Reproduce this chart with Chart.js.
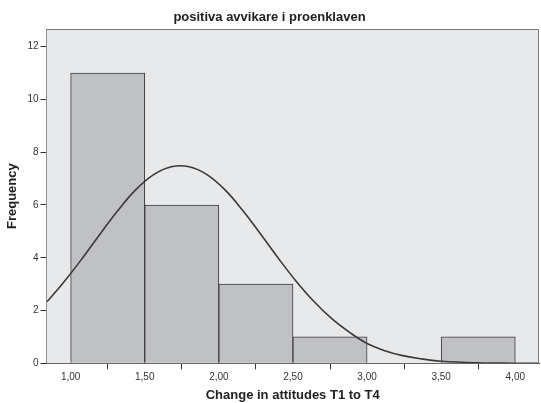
<!DOCTYPE html>
<html>
<head>
<meta charset="utf-8">
<script src="https://cdn.jsdelivr.net/npm/chart.js@4"></script>
<style>
  body { margin: 0; background: #fff; }
  #wrap { width: 541px; height: 403px; }
</style>
</head>
<body>
<div id="wrap"><canvas id="hist" width="541" height="403"></canvas></div>
<script>
// histogram bins (start of each bin, width 0.5)
const binStarts = [1.0, 1.5, 2.0, 2.5, 3.0, 3.5];
const binCounts = [11, 6, 3, 1, 0, 1];

// normal curve
const curveX = [0.84, 0.96, 1.08, 1.2, 1.32, 1.44, 1.56, 1.68, 1.8, 1.92, 2.04, 2.16, 2.28,
                2.4, 2.52, 2.64, 2.76, 2.88, 3.0, 3.12, 3.24, 3.36, 3.5, 3.75, 4.0, 4.16];
const curveY = [2.33, 3.12, 3.99, 4.91, 5.8, 6.58, 7.15, 7.45, 7.45, 7.15, 6.58, 5.8, 4.91,
                3.99, 3.12, 2.35, 1.7, 1.18, 0.75, 0.48, 0.29, 0.17, 0.08, 0.02, 0.004, 0.001];

const xTicks = [1.0, 1.5, 2.0, 2.5, 3.0, 3.5, 4.0];
const yTicks = [0, 2, 4, 6, 8, 10, 12];

const AXIS = '#333333';
const FONT = 'Liberation Sans, Arial, sans-serif';
const TICK_FONT = 'Liberation Sans Narrow, Arial Narrow, Liberation Sans, sans-serif';

// grey plot background + frame
const plotFrame = {
    id: 'plotFrame',
    beforeDatasetsDraw(chart) {
        const a = chart.chartArea;
        const ctx = chart.ctx;
        ctx.save();
        ctx.fillStyle = '#e8e9eb';
        ctx.fillRect(a.left, a.top, a.right - a.left, a.bottom - a.top);
        ctx.restore();
    },
    afterDraw(chart) {
        const a = chart.chartArea;
        const ctx = chart.ctx;
        ctx.save();
        ctx.strokeStyle = '#7a7a7a';
        ctx.lineWidth = 1;
        ctx.beginPath();
        ctx.moveTo(a.left, a.top + 0.5);
        ctx.lineTo(a.right - 0.5, a.top + 0.5);
        ctx.lineTo(a.right - 0.5, a.bottom);
        ctx.stroke();
        ctx.restore();
    }
};

const bars = binStarts.map((s, i) => ({ x: s + 0.25, y: binCounts[i] > 0 ? binCounts[i] : null }));
const curve = curveX.map((x, i) => ({ x: x, y: curveY[i] }));

new Chart(document.getElementById('hist').getContext('2d'), {
    type: 'bar',
    data: {
        datasets: [{
            type: 'line',
            data: curve,
            borderColor: '#3a3a3a',
            borderWidth: 1.6,
            pointRadius: 0,
            fill: false,
            tension: 0.4,
            order: 0
        }, {
            type: 'bar',
            data: bars,
            backgroundColor: '#c0c1c5',
            borderColor: '#3c3c3c',
            borderWidth: 1,
            borderSkipped: 'start',
            barPercentage: 1,
            categoryPercentage: 1,
            order: 1
        }]
    },
    options: {
        responsive: false,
        animation: false,
        layout: { padding: { left: 0, right: 2, top: 0, bottom: 0 } },
        plugins: {
            legend: { display: false },
            tooltip: { enabled: false },
            title: {
                display: true,
                text: 'positiva avvikare i proenklaven',
                color: '#222',
                font: { family: FONT, size: 13, weight: 'bold' },
                padding: { top: 10, bottom: 3.4 }
            }
        },
        scales: {
            x: {
                type: 'linear',
                min: 0.837,
                max: 4.16,
                offset: false,
                afterBuildTicks(scale) { scale.ticks = xTicks.map(v => ({ value: v })); },
                afterFit(scale) { scale.height = 39.7; },
                ticks: {
                    color: AXIS,
                    font: { family: TICK_FONT, size: 10 },
                    padding: 2,
                    maxRotation: 0,
                    callback: v => v.toFixed(2).replace('.', ',')
                },
                grid: { drawOnChartArea: false, drawTicks: true, tickLength: 6, color: AXIS },
                border: { display: true, color: AXIS, width: 1 },
                title: {
                    display: true,
                    text: 'Change in attitudes T1 to T4',
                    color: '#222',
                    font: { family: FONT, size: 13, weight: 'bold' },
                    padding: { top: 0, bottom: 0 }
                }
            },
            y: {
                min: 0,
                max: 12.67,
                afterBuildTicks(scale) { scale.ticks = yTicks.map(v => ({ value: v })); },
                afterFit(scale) { scale.width = 46.5; },
                ticks: {
                    color: AXIS,
                    font: { family: TICK_FONT, size: 10 },
                    padding: 2
                },
                grid: { drawOnChartArea: false, drawTicks: true, tickLength: 6, color: AXIS },
                border: { display: true, color: AXIS, width: 1 },
                title: {
                    display: true,
                    text: 'Frequency',
                    color: '#222',
                    font: { family: FONT, size: 13, weight: 'bold' },
                    padding: { top: 5, bottom: 0 }
                }
            }
        }
    },
    plugins: [plotFrame]
});
</script>
</body>
</html>
